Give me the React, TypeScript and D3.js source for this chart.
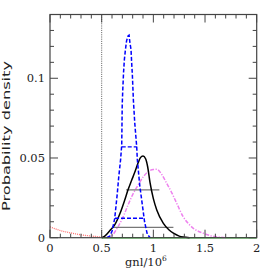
import { useRef, useEffect } from "react";
import * as d3 from "d3";

// curves: [gnl/1e6, density]
const blueCurve = [
  [0.55, 0], [0.578, 0.001], [0.6, 0.004], [0.626, 0.012], [0.65, 0.027], [0.665, 0.038],
  [0.683, 0.049], [0.694, 0.058], [0.699, 0.084], [0.705, 0.094], [0.712, 0.104], [0.72, 0.112],
  [0.73, 0.118], [0.741, 0.1235], [0.755, 0.1265], [0.765, 0.127], [0.774, 0.122], [0.784, 0.118],
  [0.79, 0.11], [0.797, 0.102], [0.807, 0.086], [0.82, 0.072], [0.839, 0.057], [0.845, 0.049],
  [0.868, 0.033], [0.9, 0.0174], [0.915, 0.01], [0.942, 0.002], [0.97, 0],
];
const blackCurve = [
  [0.5, 0], [0.53, 0.001], [0.58, 0.0045], [0.626, 0.008], [0.678, 0.0153], [0.72, 0.023],
  [0.755, 0.03], [0.79, 0.036], [0.82, 0.041], [0.85, 0.0465], [0.875, 0.0502], [0.9, 0.0513],
  [0.925, 0.0495], [0.945, 0.0445], [0.968, 0.0345], [1.0, 0.0245], [1.033, 0.0174], [1.097, 0.009],
  [1.15, 0.005], [1.194, 0.0028], [1.25, 0.001], [1.29, 0.0004], [1.35, 0],
];
const pinkCurve = [
  [0.55, 0], [0.59, 0.0008], [0.658, 0.0069], [0.7, 0.012], [0.755, 0.0205], [0.8, 0.027],
  [0.852, 0.033], [0.9, 0.038], [0.95, 0.0415], [1.0, 0.0428], [1.033, 0.0429], [1.08, 0.0398],
  [1.13, 0.034], [1.18, 0.028], [1.226, 0.0216], [1.29, 0.013], [1.34, 0.0088], [1.387, 0.0059],
  [1.484, 0.0028], [1.55, 0.0013], [1.61, 0.0006], [1.7, 0],
];
const redCurve = [
  [0, 0.0068], [0.1, 0.0045], [0.2, 0.003], [0.3, 0.0018], [0.4, 0.001], [0.5, 0.0004], [0.55, 0],
];
const greenLine = [[0.5, 0], [2, 0]];

// interval bars: [x0, x1, y]
const blackBars = [[0.736, 1.058, 0.03], [0.607, 1.194, 0.0065]];
const blueBars = [[0.694, 0.839, 0.057], [0.629, 0.903, 0.0122]];

const xTicks = [0, 0.5, 1, 1.5, 2];
const yTicks = [0, 0.05, 0.1];
const cutX = 0.5;

function drawChart(svgRef) {
  const width = 271, height = 271;
  const left = 50, right = 256.7, top = 14.5, bottom = 237.7;

  const x = d3.scaleLinear().domain([0, 2]).range([left, right]);
  const y = d3.scaleLinear().domain([0, 0.14]).range([bottom, top]);

  let svg = d3.select(svgRef.current);
  svg.selectAll("*").remove();
  svg.attr("width", width).attr("height", height).attr("viewBox", `0 0 ${width} ${height}`);

  const line = d3.line().x(d => x(d[0])).y(d => y(d[1]));
  const smooth = d3.line().x(d => x(d[0])).y(d => y(d[1])).curve(d3.curveMonotoneX);

  // cut line
  svg.append("line")
    .attr("x1", x(cutX)).attr("x2", x(cutX)).attr("y1", top).attr("y2", bottom)
    .attr("stroke", "#333").attr("stroke-width", 0.8).attr("stroke-dasharray", "1,1.2");

  svg.append("path").attr("d", line(greenLine))
    .attr("fill", "none").attr("stroke", "#33bb33").attr("stroke-width", 1.5);

  svg.append("path").attr("d", smooth(redCurve))
    .attr("fill", "none").attr("stroke", "#ff7070").attr("stroke-width", 1.3).attr("stroke-dasharray", "1,1");

  svg.append("path").attr("d", smooth(pinkCurve))
    .attr("fill", "none").attr("stroke", "#ee82ee").attr("stroke-width", 1.5).attr("stroke-dasharray", "4,1.5,1.2,1.5");

  svg.selectAll(".bbar").data(blackBars).join("line")
    .attr("x1", d => x(d[0])).attr("x2", d => x(d[1])).attr("y1", d => y(d[2])).attr("y2", d => y(d[2]))
    .attr("stroke", "#777").attr("stroke-width", 1.4);

  svg.append("path").attr("d", smooth(blackCurve))
    .attr("fill", "none").attr("stroke", "#000").attr("stroke-width", 1.5);

  svg.selectAll(".ubar").data(blueBars).join("line")
    .attr("x1", d => x(d[0])).attr("x2", d => x(d[1])).attr("y1", d => y(d[2])).attr("y2", d => y(d[2]))
    .attr("stroke", "#0000ff").attr("stroke-width", 1.4).attr("stroke-dasharray", "4,2");

  svg.append("path").attr("d", line(blueCurve))
    .attr("fill", "none").attr("stroke", "#0000ff").attr("stroke-width", 1.5).attr("stroke-dasharray", "4,2");

  // frame + ticks
  const tickColor = "#444";
  const g = svg.append("g").attr("stroke", tickColor).attr("stroke-width", 1);
  g.append("rect").attr("x", left).attr("y", top).attr("width", right - left).attr("height", bottom - top)
    .attr("fill", "none").attr("stroke-width", 1.2);
  x.ticks(20).forEach(t => {
    const len = Math.abs(t * 2 - Math.round(t * 2)) < 1e-6 ? 8 : 4;
    g.append("line").attr("x1", x(t)).attr("x2", x(t)).attr("y1", bottom).attr("y2", bottom - len);
    g.append("line").attr("x1", x(t)).attr("x2", x(t)).attr("y1", top).attr("y2", top + len);
  });
  d3.range(0, 0.1401, 0.01).forEach(t => {
    const len = Math.abs(t * 20 - Math.round(t * 20)) < 1e-6 ? 8 : 4;
    g.append("line").attr("y1", y(t)).attr("y2", y(t)).attr("x1", left).attr("x2", left + len);
    g.append("line").attr("y1", y(t)).attr("y2", y(t)).attr("x1", right).attr("x2", right - len);
  });

  const font = "'DejaVu Serif', serif";
  svg.selectAll(".xl").data(xTicks).join("text")
    .attr("x", d => x(d)).attr("y", 252).attr("text-anchor", "middle")
    .attr("font-family", font).attr("font-size", 11.5).attr("fill", "#222")
    .text(d => String(d));
  svg.selectAll(".yl").data(yTicks).join("text")
    .attr("x", 45).attr("y", d => y(d) + 4).attr("text-anchor", "end")
    .attr("font-family", font).attr("font-size", 11.5).attr("fill", "#222")
    .text(d => String(d));

  const xt = svg.append("text").attr("x", 125).attr("y", 265.5)
    .attr("font-family", font).attr("font-size", 11.5).attr("fill", "#222");
  xt.append("tspan").text("gnl/10");
  xt.append("tspan").attr("dy", -5).attr("font-size", 7.5).text("6");

  svg.append("text")
    .attr("transform", `translate(9.5,136) rotate(-90)`)
    .attr("text-anchor", "middle")
    .attr("font-family", "'DejaVu Sans', sans-serif").attr("font-size", 10.5).attr("fill", "#222")
    .attr("textLength", 150).attr("lengthAdjust", "spacingAndGlyphs")
    .text("Probability density");
}

export default function App() {
  const svg = useRef(null);
  useEffect(() => {
    drawChart(svg);
  }, [svg]);

  return (
    <div style={{ position: "absolute", left: 0, top: 0 }}>
      <svg ref={svg} />
    </div>
  );
}
